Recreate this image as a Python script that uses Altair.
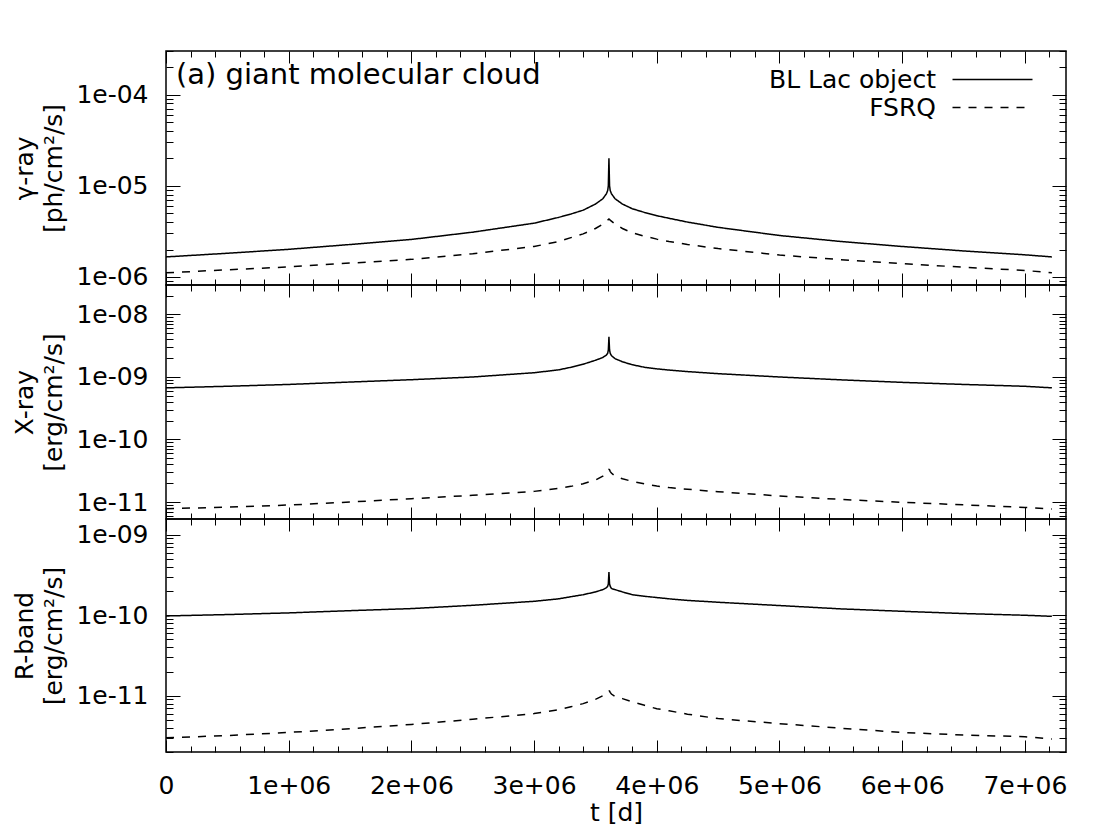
import altair as alt
import pandas as pd
import math

# ---------------- data ----------------
t_days = [0, 0.5e6, 1.0e6, 1.5e6, 2.0e6, 2.5e6, 3.0e6, 3.2e6, 3.3e6, 3.4e6, 3.5e6,
          3.56e6, 3.59e6, 3.60e6, 3.605e6, 3.61e6, 3.615e6, 3.62e6, 3.63e6, 3.66e6, 3.72e6,
          3.8e6, 3.9e6, 4.0e6, 4.1e6, 4.25e6, 4.5e6, 5.0e6, 5.5e6, 6.0e6, 6.5e6, 7.0e6, 7.22e6]

gamma_bllac = [1.66e-6, 1.82e-6, 2.01e-6, 2.27e-6, 2.58e-6, 3.1e-6, 3.89e-6, 4.5e-6, 4.9e-6, 5.4e-6, 6.3e-6,
               7.2e-6, 8.2e-6, 8.9e-6, 1.0e-5, 2.0e-5, 1.0e-5, 8.9e-6, 8.2e-6, 7.2e-6, 6.3e-6,
               5.6e-6, 5.1e-6, 4.7e-6, 4.4e-6, 4.0e-6, 3.5e-6, 2.85e-6, 2.45e-6, 2.16e-6, 1.93e-6, 1.75e-6, 1.66e-6]
gamma_fsrq = [1.11e-6, 1.2e-6, 1.29e-6, 1.42e-6, 1.56e-6, 1.8e-6, 2.16e-6, 2.45e-6, 2.7e-6, 2.97e-6, 3.4e-6,
              3.8e-6, 4.1e-6, 4.2e-6, 4.27e-6, 4.33e-6, 4.27e-6, 4.2e-6, 4.1e-6, 3.8e-6, 3.4e-6,
              3.05e-6, 2.8e-6, 2.6e-6, 2.45e-6, 2.27e-6, 2.05e-6, 1.74e-6, 1.55e-6, 1.40e-6, 1.28e-6, 1.18e-6, 1.11e-6]

xray_bllac = [6.7e-10, 7.1e-10, 7.6e-10, 8.3e-10, 9.05e-10, 1.0e-9, 1.17e-9, 1.3e-9, 1.43e-9, 1.6e-9, 1.85e-9,
              2.05e-9, 2.25e-9, 2.4e-9, 2.7e-9, 4.4e-9, 2.7e-9, 2.4e-9, 2.2e-9, 1.96e-9, 1.75e-9,
              1.57e-9, 1.43e-9, 1.35e-9, 1.29e-9, 1.22e-9, 1.13e-9, 1.0e-9, 9.0e-10, 8.2e-10, 7.6e-10, 7.1e-10, 6.7e-10]
xray_fsrq = [7.8e-12, 8.3e-12, 8.95e-12, 1.0e-11, 1.13e-11, 1.28e-11, 1.48e-11, 1.65e-11, 1.78e-11, 1.96e-11, 2.25e-11,
             2.6e-11, 2.95e-11, 3.15e-11, 3.28e-11, 3.33e-11, 3.28e-11, 3.1e-11, 2.9e-11, 2.6e-11, 2.35e-11,
             2.14e-11, 1.95e-11, 1.8e-11, 1.7e-11, 1.6e-11, 1.46e-11, 1.25e-11, 1.1e-11, 9.9e-12, 9.0e-12, 8.2e-12, 7.7e-12]

rband_bllac = [9.8e-11, 1.02e-10, 1.07e-10, 1.14e-10, 1.21e-10, 1.33e-10, 1.49e-10, 1.6e-10, 1.7e-10, 1.8e-10, 1.95e-10,
               2.08e-10, 2.2e-10, 2.3e-10, 2.45e-10, 3.45e-10, 2.45e-10, 2.3e-10, 2.15e-10, 2.08e-10, 1.95e-10,
               1.8e-10, 1.72e-10, 1.66e-10, 1.6e-10, 1.53e-10, 1.45e-10, 1.32e-10, 1.2e-10, 1.12e-10, 1.05e-10, 1.0e-10, 9.7e-11]
rband_fsrq = [3.0e-12, 3.2e-12, 3.5e-12, 3.9e-12, 4.4e-12, 5.1e-12, 6.0e-12, 6.7e-12, 7.3e-12, 7.98e-12, 9.0e-12,
              1.0e-11, 1.08e-11, 1.12e-11, 1.14e-11, 1.15e-11, 1.14e-11, 1.1e-11, 1.05e-11, 9.8e-12, 9.2e-12,
              8.4e-12, 7.6e-12, 6.9e-12, 6.5e-12, 5.9e-12, 5.2e-12, 4.5e-12, 3.95e-12, 3.5e-12, 3.25e-12, 3.1e-12, 2.9e-12]

series_names = ["BL Lac object", "FSRQ"]
panel_titles = [["γ-ray", "[ph/cm²/s]"], ["X-ray", "[erg/cm²/s]"], ["R-band", "[erg/cm²/s]"]]
panel_domains = [[8.17e-7, 3.0e-4], [5.35e-12, 2.96e-8], [2.0e-12, 1.57e-9]]
x_domain = [0, 7.335e6]
x_major = [0, 1e6, 2e6, 3e6, 4e6, 5e6, 6e6, 7e6]
x_all_ticks = [i * 2e5 for i in range(0, 37)]
plot_title = "(a) giant molecular cloud"

FONT = "DejaVu Sans"
W = 900
HEIGHTS = [234, 234, 233]


def make_df(a, b):
    rows = []
    for name, vals in zip(series_names, [a, b]):
        for t, v in zip(t_days, vals):
            rows.append({"t": t, "v": v, "src": name})
    return pd.DataFrame(rows)


def log_ticks(lo, hi):
    out = []
    for d in range(int(math.floor(math.log10(lo))), int(math.ceil(math.log10(hi))) + 1):
        for k in range(1, 10):
            v = float(f"{k}e{d}")
            if lo <= v <= hi:
                out.append(v)
    return out


def decades(lo, hi):
    return [float(f"1e{d}") for d in range(int(math.floor(math.log10(lo))), int(math.ceil(math.log10(hi))) + 1)
            if lo <= float(f"1e{d}") <= hi]


Y_MAJOR_TEST = "abs(log(datum.value)/LN10 - round(log(datum.value)/LN10)) < 0.001"
X_MAJOR_TEST = "abs(datum.value/1000000 - round(datum.value/1000000)) < 0.001"
Y_LABEL = "'1e-' + (round(-log(datum.value)/LN10) < 10 ? '0' : '') + round(-log(datum.value)/LN10)"
X_LABEL = "datum.value == 0 ? '0' : round(datum.value/1000000) + 'e+06'"

dash_scale = alt.Scale(domain=series_names, range=[[1, 0], [8, 8]])


def panel(idx, a, b):
    df = make_df(a, b)
    h = HEIGHTS[idx]
    lo, hi = panel_domains[idx]
    xs = alt.Scale(domain=x_domain, nice=False, zero=False)
    ys = alt.Scale(type="log", domain=[lo, hi], nice=False)
    bottom = idx == 2

    if bottom:
        x_axis = alt.Axis(orient="bottom", values=x_major, labelExpr=X_LABEL, ticks=False, tickSize=0,
                          domain=False, grid=False, labelPadding=21, labelFontSize=25, labelFont=FONT,
                          title="t [d]", titleFontSize=25, titleFont=FONT, titleFontWeight="normal",
                          titlePadding=2, labelFlush=False)
    else:
        x_axis = None

    if idx == 0:
        legend = alt.Legend(title=None, orient="none", legendX=814, legendY=16, symbolType="M-8,0H8",
                            symbolSize=100, symbolStrokeWidth=1.5, symbolStrokeColor="black",
                            symbolFillColor="transparent",
                            labelFontSize=25, labelFont=FONT, labelAlign="right", labelLimit=400,
                            labelOffset={"expr": "-69"}, rowPadding=2, padding=0)
    else:
        legend = None

    lines = alt.Chart(df).mark_line(color="black", strokeWidth=1.5, clip=True).encode(
        x=alt.X("t:Q", scale=xs, axis=x_axis),
        y=alt.Y("v:Q", scale=ys, axis=alt.Axis(orient="left", values=decades(lo, hi), labelExpr=Y_LABEL,
                                                ticks=False, tickSize=0, domain=False, grid=False,
                                                labelPadding=18, labelFontSize=25, labelFont=FONT,
                                                title=panel_titles[idx], titleFontSize=25, titleFont=FONT,
                                                titleFontWeight="normal", titleLineHeight=29, titlePadding=9,
                                                labelFlush=False)),
        strokeDash=alt.StrokeDash("src:N", scale=dash_scale, legend=legend),
        order=alt.Order("t:Q"),
    )

    ytick = log_ticks(lo, hi)
    ysize = {"condition": {"test": Y_MAJOR_TEST, "value": 14}, "value": 7}
    xsize = {"condition": {"test": X_MAJOR_TEST, "value": 12}, "value": 6}

    # inward ticks on left and bottom edges
    ticks_a = alt.Chart(df).mark_point(opacity=0).encode(
        x=alt.X("t:Q", scale=xs, axis=alt.Axis(orient="top", offset=-h, values=x_all_ticks, labels=False,
                                                domain=False, grid=False, title=None, tickSize=xsize,
                                                tickColor="black", tickWidth=1)),
        y=alt.Y("v:Q", scale=ys, axis=alt.Axis(orient="right", offset=-W, values=ytick, labels=False,
                                                domain=False, grid=False, title=None, tickSize=ysize,
                                                tickColor="black", tickWidth=1)),
    )
    # inward ticks on right and top edges
    ticks_b = alt.Chart(df).mark_point(opacity=0).encode(
        x=alt.X("t:Q", scale=xs, axis=alt.Axis(orient="bottom", offset=-h, values=x_all_ticks, labels=False,
                                                domain=False, grid=False, title=None, tickSize=xsize,
                                                tickColor="black", tickWidth=1)),
        y=alt.Y("v:Q", scale=ys, axis=alt.Axis(orient="left", offset=-W, values=ytick, labels=False,
                                                domain=False, grid=False, title=None, tickSize=ysize,
                                                tickColor="black", tickWidth=1)),
    )

    layer = alt.layer(lines, ticks_a, ticks_b).resolve_axis(x="independent", y="independent")
    props = dict(width=W, height=h)
    if idx == 0:
        props["title"] = alt.Title(plot_title, anchor="start", frame="group", orient="top", offset=-62,
                                   dx=10, baseline="alphabetic", fontSize=29, font=FONT,
                                   fontWeight="normal", color="black")
    return layer.properties(**props)


p1 = panel(0, gamma_bllac, gamma_fsrq)
p2 = panel(1, xray_bllac, xray_fsrq)
p3 = panel(2, rband_bllac, rband_fsrq)

chart = alt.vconcat(p1, p2, p3, spacing=0, bounds="flush").resolve_legend(
    strokeDash="independent"
).properties(
    padding={"left": 4, "top": 41, "right": 0, "bottom": 0},
    background="white",
).configure_view(
    stroke="black", strokeWidth=1.5
).configure_axis(
    labelColor="black", titleColor="black"
)

chart.save("out.html", embed_options={"renderer": "svg", "actions": False})
